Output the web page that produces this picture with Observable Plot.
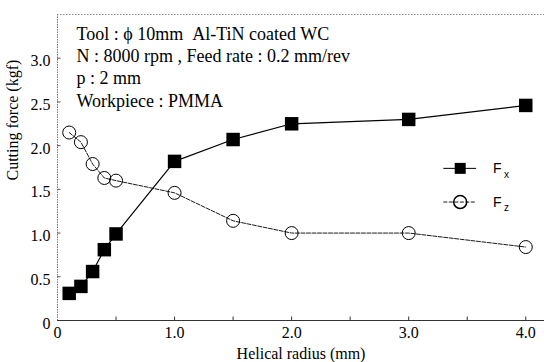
<!DOCTYPE html>
<html>
<head>
<meta charset="utf-8">
<script src="https://cdn.jsdelivr.net/npm/d3@7"></script>
<script src="https://cdn.jsdelivr.net/npm/@observablehq/plot@0.6"></script>
<style>
  html, body { margin: 0; padding: 0; background: #fff; }
  #chart svg { display: block; }
</style>
</head>
<body>
<div id="chart"></div>
<script>
// Data
const radius = [0.1, 0.2, 0.3, 0.4, 0.5, 1.0, 1.5, 2.0, 3.0, 4.0];
const fx = [0.31, 0.39, 0.56, 0.81, 0.99, 1.82, 2.07, 2.25, 2.30, 2.46];
const fz = [2.15, 2.04, 1.79, 1.63, 1.60, 1.46, 1.14, 1.00, 1.00, 0.84];

const xTickValues = [0, 1, 2, 3, 4];
const xMinorTicks = [0.5, 1, 1.5, 2, 2.5, 3, 3.5, 4];
const yTickValues = [0, 0.5, 1.0, 1.5, 2.0, 2.5, 3.0];
const annotationLines = [
  "Tool : \u03D5 10mm \u00A0Al-TiN coated WC",
  "N : 8000 rpm , Feed rate : 0.2 mm/rev",
  "p : 2 mm",
  "Workpiece : PMMA"
];
const xLabel = "Helical radius (mm)";
const yLabel = "Cutting force (kgf)";
const seriesNames = ["x", "z"];

const fxData = radius.map((r, i) => ({r, v: fx[i]}));
const fzData = radius.map((r, i) => ({r, v: fz[i]}));

// legend layout (in data units of the chart)
const legX = 3.44, legHalf = 0.14, legTextX = 3.72;
const legY = [1.74, 1.355];

const serif = "'Liberation Serif', 'Times New Roman', serif";
const sans = "'Liberation Sans', Arial, sans-serif";
const fmt = d => d === 0 ? "0" : d.toFixed(1);
const fzDash = "4,1.5";

const chart = Plot.plot({
  width: 544,
  height: 362,
  marginLeft: 57,
  marginRight: 0,
  marginTop: 14,
  marginBottom: 42,
  style: {background: "#fff", fontFamily: serif, color: "#000"},
  x: {domain: [0, 4.16]},
  y: {domain: [0, 3.5]},
  marks: [
    // frame lines
    Plot.ruleX([0], {stroke: "#777", strokeWidth: 1, strokeDasharray: "1.5,1"}),
    Plot.ruleY([3.5], {stroke: "#888", strokeWidth: 1, strokeDasharray: "1.5,1.5"}),
    Plot.ruleY([0], {stroke: "#333", strokeWidth: 1.2}),
    // inward ticks
    Plot.ruleX(xMinorTicks, {x: d => d, y1: 0, y2: 0.04, stroke: "#333"}),
    Plot.ruleY(yTickValues.slice(1), {y: d => d, x1: 0, x2: 0.03, stroke: "#555"}),
    // axes (tick labels)
    Plot.axisX(xTickValues, {tickSize: 0, tickPadding: 6, fontSize: 16, tickFormat: fmt, label: null}),
    Plot.axisY(yTickValues, {tickSize: 0, tickPadding: 7, dy: 3, fontSize: 16, tickFormat: fmt, label: null}),
    // axis titles
    Plot.text([xLabel], {frameAnchor: "bottom", dy: 33, lineAnchor: "middle", fontSize: 16, fontFamily: serif, fill: "#000"}),
    Plot.text([yLabel], {frameAnchor: "left", dx: -45, dy: 13, rotate: -90, lineAnchor: "middle", fontSize: 16, fontFamily: serif, fill: "#000"}),
    // series lines
    Plot.line(fzData, {x: "r", y: "v", stroke: "#000", strokeWidth: 0.9, strokeDasharray: fzDash}),
    Plot.line(fxData, {x: "r", y: "v", stroke: "#000", strokeWidth: 1.2}),
    Plot.dot(fzData, {x: "r", y: "v", r: 6.5, symbol: "circle", stroke: "#000", strokeWidth: 1, fill: "none"}),
    Plot.dot(fxData, {x: "r", y: "v", r: 7.6, symbol: "square", fill: "#000", stroke: "none"}),
    // annotation
    Plot.text([annotationLines.join("\n")], {frameAnchor: "top-left", dx: 19, dy: 10, textAnchor: "start",
      lineAnchor: "top", lineHeight: 1.23, fontSize: 18, fontFamily: serif, fill: "#000"}),
    // legend
    Plot.ruleY([legY[0]], {x1: legX - legHalf, x2: legX + legHalf, stroke: "#000", strokeWidth: 1}),
    Plot.ruleY([legY[1]], {x1: legX - legHalf, x2: legX + legHalf, stroke: "#000", strokeWidth: 0.9, strokeDasharray: fzDash}),
    Plot.dot([legY[0]], {x: legX, y: d => d, r: 6.2, symbol: "square", fill: "#000"}),
    Plot.dot([legY[1]], {x: legX, y: d => d, r: 6.5, symbol: "circle", stroke: "#000", fill: "none"}),
    Plot.text(legY, {x: legTextX, y: d => d, text: () => "F", textAnchor: "start", fontSize: 14, fontFamily: sans, fill: "#000"}),
    Plot.text(legY, {x: legTextX, y: d => d, text: (d, i) => seriesNames[i], dx: 11, dy: 6, textAnchor: "start", fontSize: 10, fontFamily: sans, fill: "#000"})
  ]
});
document.getElementById("chart").appendChild(chart);
</script>
</body>
</html>
